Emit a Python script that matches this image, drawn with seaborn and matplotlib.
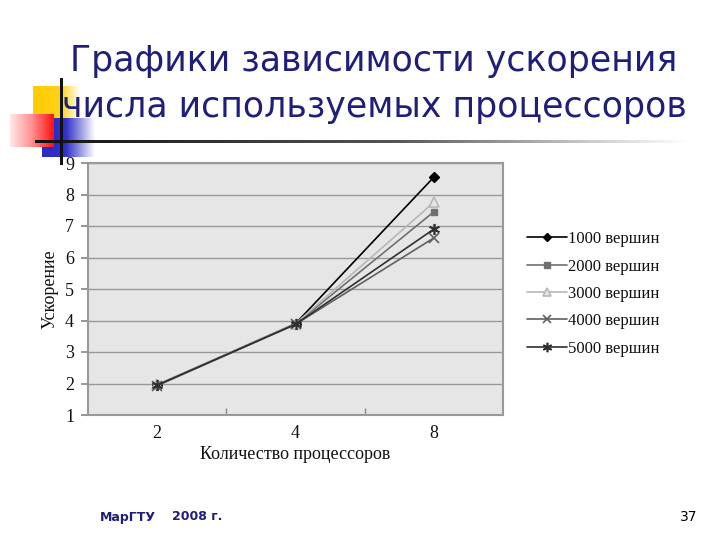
import numpy as np
import pandas as pd
import matplotlib
matplotlib.use("Agg")
import matplotlib.pyplot as plt
from matplotlib.colors import LinearSegmentedColormap
from matplotlib.lines import Line2D
import seaborn as sns

# ---- data ----
processors = ["2", "4", "8"]
series_names = ["1000 вершин", "2000 вершин", "3000 вершин", "4000 вершин", "5000 вершин"]
s1000 = [1.95, 3.90, 8.55]
s2000 = [1.95, 3.88, 7.45]
s3000 = [1.97, 3.90, 7.75]
s4000 = [1.93, 3.88, 6.62]
s5000 = [1.95, 3.88, 6.90]
yticks = [1, 2, 3, 4, 5, 6, 7, 8, 9]
title_text = "Графики зависимости ускорения\nчисла используемых процессоров"
xlabel = "Количество процессоров"
ylabel = "Ускорение"

values = [s1000, s2000, s3000, s4000, s5000]
df = pd.DataFrame({
    "proc": processors * len(series_names),
    "speedup": sum(values, []),
    "series": [n for n in series_names for _ in processors],
})

sns.set_theme(style="white")
plt.rcParams["font.family"] = ["DejaVu Sans"]

W, H = 720, 540
fig = plt.figure(figsize=(7.2, 5.4), dpi=100)
fig.patch.set_facecolor("white")

def pix_axes(x0, y0, x1, y1, z=1):
    a = fig.add_axes([x0 / W, 1 - y1 / H, (x1 - x0) / W, (y1 - y0) / H], zorder=z)
    a.set_axis_off()
    return a

def hgrad(x0, y0, x1, y1, colors, z=1):
    a = pix_axes(x0, y0, x1, y1, z)
    cmap = LinearSegmentedColormap.from_list("g", colors)
    a.imshow(np.linspace(0, 1, 256)[None, :], aspect="auto", cmap=cmap,
             extent=[0, 1, 0, 1])
    a.set_xlim(0, 1); a.set_ylim(0, 1)
    return a

# decorative squares
hgrad(33, 86, 80, 118, [(0, "#ffcc00"), (0.6, "#ffd21a"), (1, "#ffffff")], z=1)
hgrad(42, 118, 95, 157, [(0, "#2b2bc4"), (0.45, "#3030c8"), (1, "#ffffff")], z=2)
hgrad(10, 114, 54, 147, [(0, "#ffe8e8"), (0.5, "#ff9090"), (1, "#ff1010")], z=3)
# horizontal rule under title
hgrad(35, 140, 690, 143, [(0, "#111111"), (0.55, "#555555"), (0.85, "#cccccc"), (1, "#ffffff")], z=4)
# vertical black line
vl = pix_axes(60, 78, 63, 165, z=5)
vl.add_patch(plt.Rectangle((0, 0), 1, 1, color="#111111", transform=vl.transAxes))

# title
fig.text(374 / W, 1 - 84 / H, title_text, ha="center", va="center",
         fontsize=25, color="#1f1f7a", linespacing=1.42)

# ---- main chart ----
ax = fig.add_axes([88 / W, 1 - 415 / H, (503 - 88) / W, (415 - 163) / H], zorder=6)
ax.set_facecolor("#e6e6e6")

styles = [
    dict(color="#000000", marker="D", markersize=5, mfc="#000000", mec="#000000", mew=1),
    dict(color="#707070", marker="s", markersize=5, mfc="#707070", mec="#707070", mew=1),
    dict(color="#b8b8b8", marker="^", markersize=7, mfc="#e6e6e6", mec="#b8b8b8", mew=1.2),
    dict(color="#606060", marker="x", markersize=7, mfc="none", mec="#606060", mew=1.2),
    dict(color="#303030", marker=(6, 2, 0), markersize=8, mfc="none", mec="#303030", mew=1.2),
]

handles = []
for name, st in zip(series_names, styles):
    sub = df[df["series"] == name]
    sns.lineplot(data=sub, x="proc", y="speedup", ax=ax, color=st["color"],
                 linewidth=1.2, marker=st["marker"], markersize=st["markersize"],
                 markerfacecolor=st["mfc"], markeredgecolor=st["mec"],
                 markeredgewidth=st["mew"], sort=False, legend=False, zorder=3)
    handles.append(Line2D([0], [0], color=st["color"], lw=1.2, marker=st["marker"],
                          markersize=st["markersize"] * 0.85, markerfacecolor=st["mfc"],
                          markeredgecolor=st["mec"], markeredgewidth=st["mew"]))

ax.set_xlim(-0.5, 2.5)
ax.set_ylim(1, 9)
ax.set_yticks(yticks)
ax.set_yticklabels([str(t) for t in yticks])
ax.set_xticks([0.5, 1.5], minor=True)
ax.yaxis.grid(True, color="#999999", linewidth=1)
ax.xaxis.grid(False)
ax.set_axisbelow(True)
for s in ax.spines.values():
    s.set_color("#999999")
    s.set_linewidth(1.5)

serif = "Liberation Serif"
ax.tick_params(axis="y", which="both", left=True, length=5, color="#888888",
               labelsize=13, pad=5, labelcolor="#111111")
ax.tick_params(axis="x", which="major", bottom=False, labelsize=13, pad=1,
               labelcolor="#111111")
ax.tick_params(axis="x", which="minor", bottom=True, direction="in", length=5,
               color="#888888")
for lab in ax.get_yticklabels() + ax.get_xticklabels():
    lab.set_fontfamily(serif)
ax.set_xlabel(xlabel, fontfamily=serif, fontsize=13, labelpad=3, color="#111111")
ax.set_ylabel(ylabel, fontfamily=serif, fontsize=13, labelpad=5, color="#111111")

leg = fig.legend(handles, series_names, loc="center left",
                 bbox_to_anchor=(520 / W, 1 - 294 / H), frameon=False,
                 prop={"family": serif, "size": 12}, handlelength=2.4,
                 handletextpad=0.1, labelspacing=0.68, borderaxespad=0)
for t in leg.get_texts():
    t.set_color("#111111")

# footer
fig.text(100 / W, 1 - 517 / H, "МарГТУ", fontsize=9, fontweight="bold",
         color="#1f1f7a", va="center", ha="left")
fig.text(172 / W, 1 - 517 / H, "2008 г.", fontsize=9, fontweight="bold",
         color="#1f1f7a", va="center", ha="left")
fig.text(697 / W, 1 - 517 / H, "37", fontsize=10, color="#000000",
         va="center", ha="right")

fig.savefig("out.png", dpi=100)
